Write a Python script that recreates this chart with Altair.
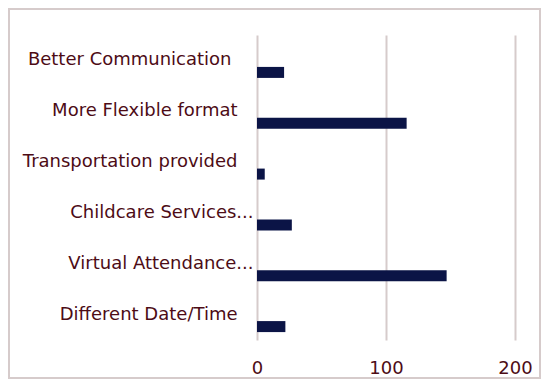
import altair as alt
import pandas as pd

categories = [
    "Better Communication",
    "More Flexible format",
    "Transportation provided",
    "Childcare Services...",
    "Virtual Attendance...",
    "Different Date/Time",
]
values = [21, 116, 6, 27, 147, 22]
x_ticks = [0, 100, 200]

TEXT = "#4d0c16"
BAR = "#0b1446"
GRID = "#d6cbcb"
FONT = "DejaVu Sans"

df = pd.DataFrame({"category": categories, "value": values})

label_pad = {
    "condition": [
        {"test": "datum.value === 'Better Communication'", "value": 26},
        {"test": "indexof(datum.value, '...') > 0", "value": 4},
    ],
    "value": 20,
}

bars = alt.Chart(df).mark_bar(color=BAR, height=11, yOffset=12).encode(
    x=alt.X(
        "value:Q",
        scale=alt.Scale(domain=[0, 200], nice=False, zero=True),
        axis=alt.Axis(
            values=x_ticks, title=None, grid=True, gridColor=GRID, gridWidth=2,
            domain=False, ticks=False, labelColor=TEXT, labelFont=FONT,
            labelFontSize=18, labelPadding=19, labelFlush=False,
        ),
    ),
    y=alt.Y(
        "category:N",
        sort=None,
        scale=alt.Scale(paddingInner=0, paddingOuter=0),
        axis=alt.Axis(
            title=None, domain=False, ticks=False, labelColor=TEXT,
            labelFont=FONT, labelFontSize=18, labelPadding=label_pad,
            labelLimit=400,
        ),
    ),
)

border = alt.Chart(pd.DataFrame({"a": [0]})).mark_rect(
    fill=None, stroke=GRID, strokeWidth=2
).encode(
    x=alt.value(-248), x2=alt.value(283), y=alt.value(-26), y2=alt.value(343)
)

chart = alt.layer(border, bars).properties(
    width=258,
    height=305,
    padding={"left": 249, "top": 27, "right": 26, "bottom": 39},
    autosize=alt.AutoSizeParams(type="none"),
    background="white",
).configure_view(stroke=None)

chart.save("out.html", embed_options={"renderer": "svg", "actions": False})
